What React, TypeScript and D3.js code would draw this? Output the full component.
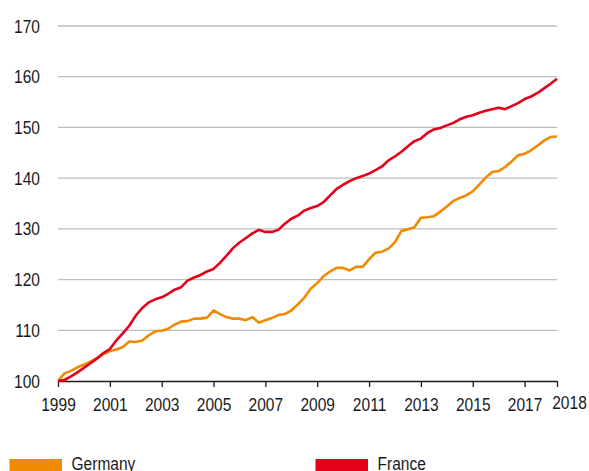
import React, { useRef, useEffect } from 'react';
import * as d3 from 'd3';

// quarterly index, 1999Q1 = 100
const startYear = 1999;
const germany = [
  100, 101.5, 102.0, 102.7, 103.2, 103.8, 104.5, 105.3, 105.9, 106.2,
  106.7, 107.8, 107.7, 108.0, 109.0, 109.8, 109.9, 110.3, 111.1, 111.7,
  111.8, 112.3, 112.3, 112.5, 113.9, 113.2, 112.6, 112.3, 112.3, 112.0,
  112.6, 111.5, 112.0, 112.4, 113.0, 113.2, 113.9, 115.1, 116.4, 118.2,
  119.3, 120.7, 121.6, 122.3, 122.3, 121.8, 122.5, 122.5, 124.0, 125.3,
  125.5, 126.1, 127.4, 129.6, 129.9, 130.3, 132.2, 132.3, 132.5, 133.4,
  134.4, 135.5, 136.1, 136.6, 137.4, 138.7, 140.1, 141.2, 141.4, 142.2,
  143.3, 144.5, 144.8, 145.5, 146.4, 147.4, 148.1, 148.2
];
const france = [
  100, 100.2, 100.9, 101.7, 102.6, 103.5, 104.4, 105.5, 106.3, 108.0,
  109.4, 110.9, 112.9, 114.4, 115.5, 116.1, 116.5, 117.2, 118.0, 118.5,
  119.8, 120.4, 120.9, 121.6, 122.1, 123.3, 124.7, 126.2, 127.3, 128.2,
  129.1, 129.8, 129.4, 129.4, 129.8, 131.0, 132.0, 132.6, 133.6, 134.1,
  134.5, 135.3, 136.6, 137.9, 138.7, 139.4, 140.0, 140.4, 140.9, 141.6,
  142.3, 143.5, 144.3, 145.2, 146.3, 147.3, 147.8, 148.9, 149.6, 149.9,
  150.4, 150.9, 151.6, 152.1, 152.4, 152.9, 153.3, 153.6, 153.9, 153.6,
  154.2, 154.8, 155.6, 156.1, 156.8, 157.7, 158.6, 159.6
];
const xTickValues = [1999, 2001, 2003, 2005, 2007, 2009, 2011, 2013, 2015, 2017, 2018.25];
const xTickLabels = ['1999', '2001', '2003', '2005', '2007', '2009', '2011', '2013', '2015', '2017', '2018'];
const yTickValues = [100, 110, 120, 130, 140, 150, 160, 170];
const seriesNames = ['Germany', 'France'];
const seriesColors = ['#f08a00', '#e2001a'];

// no Arial Narrow here, so squeeze Liberation Sans horizontally
const font = "'Liberation Sans', Arial, sans-serif";
const squeeze = 0.84;

const App = () => {
  const svgRef = useRef<SVGSVGElement>(null);

  useEffect(() => {
    const width = 589;
    const height = 471;
    const svg = d3.select(svgRef.current);
    svg.selectAll('*').remove();

    const x = d3.scaleLinear().domain([startYear, 2018.25]).range([58, 557]);
    const y = d3.scaleLinear().domain([100, 170]).range([381, 26]);

    // gridlines
    svg.append('g')
      .selectAll('line')
      .data(yTickValues.slice(1))
      .enter()
      .append('line')
      .attr('x1', x(startYear))
      .attr('x2', x(2018.25))
      .attr('y1', d => y(d))
      .attr('y2', d => y(d))
      .attr('stroke', '#bdbdbd')
      .attr('stroke-width', 1.3);

    // y labels
    svg.append('g')
      .selectAll('text')
      .data(yTickValues)
      .enter()
      .append('text')
      .attr('transform', d => `translate(40, ${y(d) + 6.5}) scale(${squeeze}, 1)`)
      .attr('text-anchor', 'end')
      .style('font-family', font)
      .style('font-size', '18.5px')
      .style('fill', '#1a1a1a')
      .text(d => d);

    // x axis
    const xAxis = d3.axisBottom(x)
      .tickValues(xTickValues)
      .tickFormat((d, i) => xTickLabels[i])
      .tickSize(6)
      .tickPadding(4);

    const ax = svg.append('g')
      .attr('transform', `translate(0, ${y(100)})`)
      .call(xAxis);
    ax.select('.domain').attr('stroke', '#1a1a1a').attr('stroke-width', 1.3)
      .attr('d', `M${x(startYear)},0.5H${x(2018.25)}`);
    ax.selectAll('.tick line').attr('stroke', '#1a1a1a').attr('stroke-width', 1.3);
    ax.selectAll('.tick text')
      .attr('y', null)
      .attr('dy', null)
      .attr('transform', (d, i) => i === xTickValues.length - 1
        ? `translate(12, 28) scale(${squeeze}, 1)`
        : `translate(0, 30) scale(${squeeze}, 1)`)
      .style('font-family', font)
      .style('font-size', '18.5px')
      .style('fill', '#1a1a1a');

    // lines
    const line = d3.line<number>()
      .x((d, i) => x(startYear + i / 4))
      .y(d => y(d));

    [germany, france].forEach((s, k) => {
      svg.append('path')
        .datum(s)
        .attr('d', line)
        .attr('fill', 'none')
        .attr('stroke', seriesColors[k])
        .attr('stroke-width', 2.6)
        .attr('stroke-linejoin', 'round');
    });

    // legend
    const legend = svg.append('g')
      .selectAll('g')
      .data(seriesNames)
      .enter()
      .append('g')
      .attr('transform', (d, i) => `translate(${i === 0 ? 9.5 : 315.5}, 459)`);

    legend.append('rect')
      .attr('width', 52.5)
      .attr('height', 14)
      .attr('fill', (d, i) => seriesColors[i]);

    legend.append('text')
      .attr('transform', `translate(62, 11) scale(${squeeze}, 1)`)
      .style('font-family', font)
      .style('font-size', '18.5px')
      .style('fill', '#1a1a1a')
      .text(d => d);

    svg.attr('width', width).attr('height', height);
  }, []);

  return (
    <svg
      ref={svgRef}
      width={589}
      height={471}
      style={{ position: 'absolute', left: 0, top: 0, background: '#fff' }}
    />
  );
};

export default App;
